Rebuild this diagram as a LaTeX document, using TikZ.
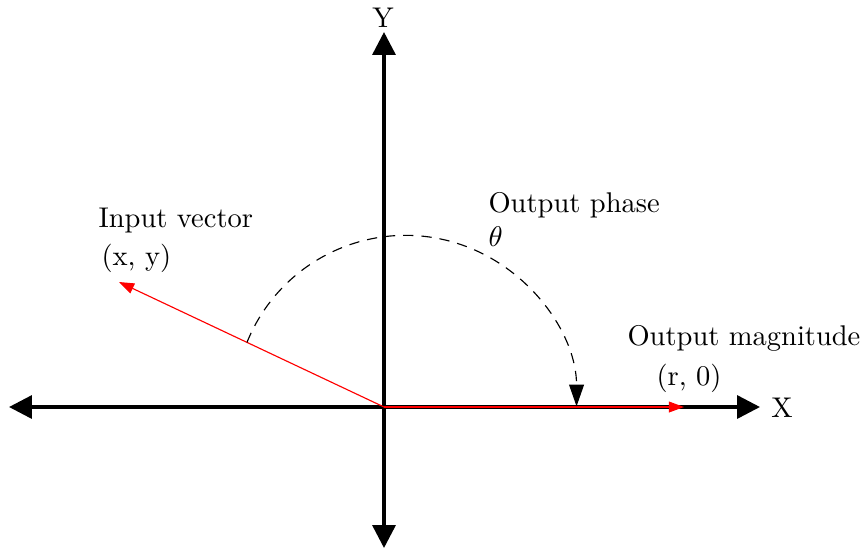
\documentclass[tikz,border=0pt]{standalone}
\usetikzlibrary{arrows.meta}
\begin{document}
\begin{tikzpicture}[x=0.3509pt,y=-0.3509pt,
  axis/.style={very thick,{Triangle[length=8pt,width=8pt]}-{Triangle[length=8pt,width=8pt]}},
  vec/.style={red,-{Triangle[length=5.3pt,width=3.8pt]}},
  phase/.style={dash pattern=on 3.6pt off 2.8pt,-{Triangle[length=7.6pt,width=5.2pt]}},
  lbl/.style={inner sep=0pt,anchor=base west}]
\useasboundingbox (0,0) rectangle (867,550);
\coordinate (O) at (384,407);
\coordinate (L) at (9,407);
\coordinate (R) at (760,407);
\coordinate (T) at (384,32);
\coordinate (B) at (384,548);
\coordinate (P) at (119,282);
\coordinate (Q) at (684,407);
\coordinate (S) at (247,342.3);
\draw[axis] (L) -- (R);
\draw[axis] (B) -- (T);
\draw[vec] (O) -- (P);
\draw[vec] (O) -- (Q);
\draw[phase] (S) arc[start angle=-158,end angle=0,radius=171];
\node[anchor=center] (xl) at (782,408) {X};
\node[anchor=center] (yl) at (383,18) {Y};
\node[lbl] (iv) at (98,227) {Input vector};
\node[lbl] (xy) at (101,265) {(x, y)};
\node[lbl,align=left] (op) at (488,246.7) {Output phase\\$\theta$};
\node[lbl] (om) at (627,345) {Output magnitude};
\node[lbl] (r0) at (656,385) {(r, 0)};
\end{tikzpicture}
\end{document}
